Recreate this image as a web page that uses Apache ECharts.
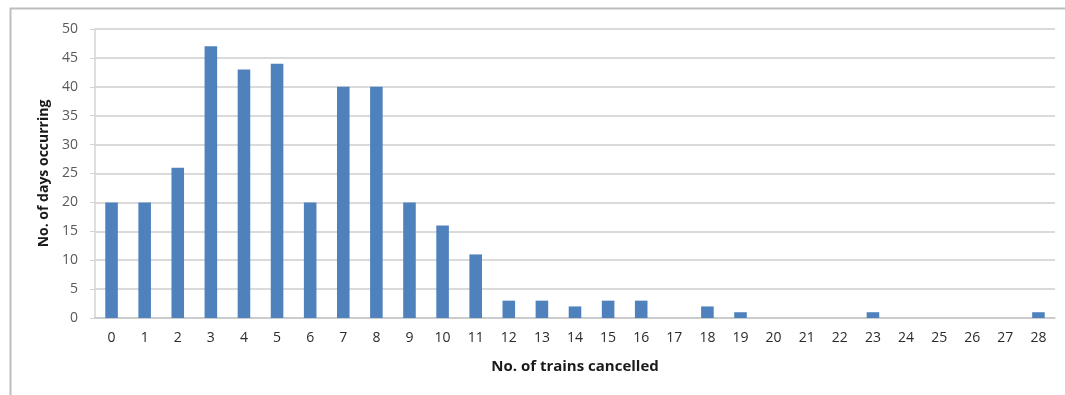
<!DOCTYPE html>
<html>
<head>
<meta charset="utf-8">
<script src="https://cdn.jsdelivr.net/npm/echarts@6/dist/echarts.min.js"></script>
<style>
  html, body { margin: 0; padding: 0; background: #ffffff; }
  #chart { width: 1065px; height: 395px; }
</style>
</head>
<body>
<div id="chart"></div>
<script>
// Number of trains cancelled in a day (category axis)
const trainsCancelled = ['0','1','2','3','4','5','6','7','8','9','10','11','12','13','14',
  '15','16','17','18','19','20','21','22','23','24','25','26','27','28'];
// Number of days on which that many cancellations occurred
const daysOccurring = [20, 20, 26, 47, 43, 44, 20, 40, 40, 20, 16, 11, 3, 3, 2,
  3, 3, 0, 2, 1, 0, 0, 0, 1, 0, 0, 0, 0, 1];
const yTicks = { min: 0, max: 50, interval: 5 };

const chart = echarts.init(document.getElementById('chart'), null, { renderer: 'canvas' });
const labelFont = '"Open Sans", "Noto Sans", sans-serif';

chart.setOption({
  animation: false,
  backgroundColor: '#ffffff',
  graphic: [
    { type: 'line', shape: { x1: 10, y1: 8.5, x2: 1065, y2: 8.5 }, style: { stroke: '#bdbdbd', lineWidth: 2 } },
    { type: 'line', shape: { x1: 10.5, y1: 8, x2: 10.5, y2: 395 }, style: { stroke: '#bdbdbd', lineWidth: 2 } }
  ],
  grid: { left: 95, right: 10, top: 29, bottom: 77, containLabel: false },
  xAxis: {
    type: 'category',
    data: trainsCancelled,
    name: 'No. of trains cancelled',
    nameLocation: 'middle',
    nameGap: 41,
    nameTextStyle: { fontFamily: labelFont, fontWeight: 'bold', fontSize: 15, color: '#1a1a1a' },
    axisLine: { lineStyle: { color: '#c8c8c8', width: 1.5 } },
    axisTick: { alignWithLabel: false, length: 5, lineStyle: { color: '#c8c8c8' } },
    axisLabel: { fontFamily: labelFont, fontSize: 14, color: '#2b2b2b', margin: 13 }
  },
  yAxis: {
    type: 'value',
    min: yTicks.min,
    max: yTicks.max,
    interval: yTicks.interval,
    name: 'No. of days occurring',
    nameLocation: 'middle',
    nameGap: 41,
    nameRotate: 90,
    nameTextStyle: { fontFamily: labelFont, fontWeight: 'bold', fontSize: 14, color: '#1a1a1a' },
    axisLine: { show: true, lineStyle: { color: '#d4d4d4', width: 1.5 } },
    axisTick: { show: true, length: 5, lineStyle: { color: '#d4d4d4' } },
    axisLabel: { fontFamily: labelFont, fontSize: 14, color: '#595959', margin: 17 },
    splitLine: { lineStyle: { color: '#dadada', width: 1.8 } }
  },
  series: [{
    type: 'bar',
    data: daysOccurring,
    barWidth: '38%',
    itemStyle: { color: '#4f81bd' }
  }]
});
</script>
</body>
</html>
